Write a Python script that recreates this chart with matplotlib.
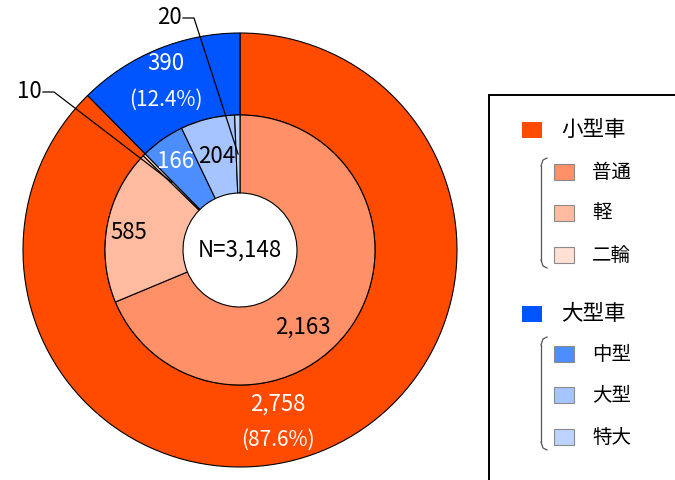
import numpy as np
import matplotlib
matplotlib.use("Agg")
import matplotlib.pyplot as plt
from matplotlib.patches import Rectangle

plt.rcParams['font.family'] = ['Noto Sans CJK JP', 'DejaVu Sans']

# ---- data ----
outer_labels = ["小型車", "大型車"]
outer_values = [2758, 390]
outer_colors = ["#FF4B00", "#0055FF"]

inner_labels = ["普通", "軽", "二輪", "中型", "大型", "特大"]
inner_values = [2163, 585, 10, 166, 204, 20]
inner_colors = ["#FF9068", "#FFBBA0", "#FFE0D5", "#4D8EFF", "#A6C4FF", "#BCD4FF"]

total = sum(outer_values)

W, H = 675, 480
fig = plt.figure(figsize=(W / 100, H / 100), dpi=100)
ax = fig.add_axes([0, 0, 1, 1])
ax.set_xlim(0, W)
ax.set_ylim(0, H)
ax.axis("off")

cx, cy = 240, H - 250
R_out, R_mid, R_in = 217, 135, 57

ax.pie(outer_values, colors=outer_colors, radius=R_out, center=(cx, cy),
       startangle=90, counterclock=False,
       wedgeprops=dict(width=R_out - R_mid, edgecolor="black", linewidth=0.8))
ax.pie(inner_values, colors=inner_colors, radius=R_mid, center=(cx, cy),
       startangle=90, counterclock=False,
       wedgeprops=dict(width=R_mid - R_in, edgecolor="black", linewidth=0.8))
ax.set_xlim(0, W)
ax.set_ylim(0, H)
ax.set_aspect("equal")


def mid_angle(values, i):
    cum = sum(values[:i]) + values[i] / 2
    return np.deg2rad(90 - 360 * cum / sum(values))


def polar(r, a):
    return cx + r * np.cos(a), cy + r * np.sin(a)


fs = 16
# outer labels
for i, (r, da, col) in enumerate([(176, -10, "white"), (184, 1.5, "white")]):
    a = mid_angle(outer_values, i) + np.deg2rad(da)
    x, y = polar(r, a)
    pct = outer_values[i] / total * 100
    ax.text(x, y + 18, f"{outer_values[i]:,}", ha="center", va="center",
            color=col, fontsize=fs)
    ax.text(x, y - 18, f"({pct:.1f}%)", ha="center", va="center",
            color=col, fontsize=fs - 1)

# inner labels
inner_pos = {0: (100, -17, "black"), 1: (113, 2, "black"),
             3: (109, 1, "white"), 4: (96, 0, "black")}
for i, (r, da, col) in inner_pos.items():
    a = mid_angle(inner_values, i) + np.deg2rad(da)
    x, y = polar(r, a)
    ax.text(x, y, f"{inner_values[i]:,}", ha="center", va="center",
            color=col, fontsize=fs)

# leader labels for small slices
for i, (tx, ty) in {2: (29, 92), 5: (169, 18)}.items():
    a = mid_angle(inner_values, i)
    x, y = polar(96, a)
    ty = H - ty
    ax.text(tx, ty, f"{inner_values[i]:,}", ha="center", va="center",
            color="black", fontsize=fs)
    ax.plot([tx + 14, tx + 25, x], [ty, ty, y], color="black", lw=0.9)

ax.text(cx, cy, f"N={total:,}", ha="center", va="center", fontsize=fs)

# ---- legend ----
ax.add_patch(Rectangle((489, -20), 300, H - 95 + 20, facecolor="white",
                       edgecolor="black", linewidth=1.4, zorder=5))

groups = [
    (0, 130, [0, 1, 2], [172, 213, 255], (158, 268)),
    (1, 314, [3, 4, 5], [354, 395, 437], (337, 450)),
]
for gi, gy, idxs, ys, (b0, b1) in groups:
    ax.add_patch(Rectangle((522, H - gy - 8), 20, 16, facecolor=outer_colors[gi],
                           edgecolor="none", zorder=6))
    ax.text(561, H - gy, outer_labels[gi], ha="left", va="center",
            fontsize=15.5, zorder=6)
    # bracket
    bx = 547
    ax.plot([bx, bx - 4, bx - 6], [H - b0, H - b0 - 2, H - b0 - 8],
            color="#555555", lw=0.9, zorder=6)
    ax.plot([bx - 6, bx - 6], [H - b0 - 8, H - b1 + 8], color="#555555", lw=0.9, zorder=6)
    ax.plot([bx - 6, bx - 4, bx], [H - b1 + 8, H - b1 + 2, H - b1],
            color="#555555", lw=0.9, zorder=6)
    for idx, yy in zip(idxs, ys):
        ax.add_patch(Rectangle((554, H - yy - 8), 20, 16,
                               facecolor=inner_colors[idx], edgecolor="#8a8a8a",
                               linewidth=0.8, zorder=6))
        ax.text(592, H - yy, inner_labels[idx], ha="left", va="center",
                fontsize=14, zorder=6)

fig.savefig("out.png", dpi=100)
